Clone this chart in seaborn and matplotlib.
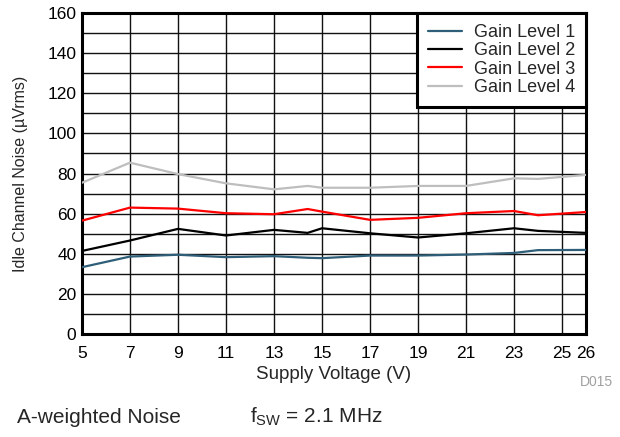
import numpy as np
import pandas as pd
import matplotlib
matplotlib.use("Agg")
import matplotlib.pyplot as plt
import seaborn as sns

# supply voltage sweep (V)
voltage = [5, 7, 9, 11, 13, 14.4, 15, 17, 19, 21, 23, 24, 26]

# idle channel noise (uVrms) per gain level
gain1 = [33.3, 38.6, 39.5, 38.3, 38.8, 38.0, 37.8, 39.1, 39.1, 39.6, 40.4, 41.8, 41.9]
gain2 = [41.4, 46.6, 52.4, 49.1, 51.9, 50.4, 52.7, 50.2, 48.1, 50.2, 52.7, 51.4, 50.4]
gain3 = [56.5, 63.0, 62.5, 60.2, 59.7, 62.3, 61.0, 56.9, 57.9, 60.2, 61.3, 59.2, 60.8]
gain4 = [75.4, 85.4, 79.7, 75.1, 72.1, 73.8, 72.9, 72.9, 73.8, 73.8, 77.6, 77.3, 79.3]

series_names = ["Gain Level 1", "Gain Level 2", "Gain Level 3", "Gain Level 4"]
series_colors = ["#2F5F78", "#000000", "#FF0000", "#BEBEBE"]

xtick_values = [5, 7, 9, 11, 13, 15, 17, 19, 21, 23, 25, 26]
ytick_values = list(range(0, 161, 20))

df = pd.concat(
    [pd.DataFrame({"Voltage": voltage, "Noise": vals, "Series": name})
     for name, vals in zip(series_names, [gain1, gain2, gain3, gain4])],
    ignore_index=True,
)

sns.set_style("white")
plt.rcParams["font.family"] = ["Liberation Sans", "DejaVu Sans"]
plt.rcParams["mathtext.default"] = "regular"

fig = plt.figure(figsize=(6.2, 4.37), dpi=100)
ax = fig.add_axes([82 / 620, 1 - 334 / 437, (586 - 82) / 620, (334 - 13) / 437])

sns.lineplot(
    data=df, x="Voltage", y="Noise", hue="Series",
    palette=dict(zip(series_names, series_colors)),
    hue_order=series_names, linewidth=1.6, ax=ax, zorder=3,
)

ax.set_xlim(5, 26)
ax.set_ylim(0, 160)
ax.set_xticks(xtick_values)
ax.set_xticklabels([str(v) for v in xtick_values])
ax.set_yticks(ytick_values)
ax.set_yticks(range(10, 160, 20), minor=True)
ax.tick_params(axis="both", which="both", length=0, labelsize=12.5, colors="black")
ax.tick_params(axis="x", pad=9)
ax.tick_params(axis="y", pad=4)
ax.grid(True, which="both", color="#111111", linewidth=1.0)
ax.set_axisbelow(True)

for sp in ax.spines.values():
    sp.set_visible(True)
    sp.set_color("black")
    sp.set_linewidth(2.2)

ax.set_xlabel("Supply Voltage (V)", fontsize=13.5, labelpad=3)
ax.set_ylabel("Idle Channel Noise (µVrms)", fontsize=11.5, labelpad=14)

leg = ax.legend(
    loc="upper right", bbox_to_anchor=(1, 1), borderaxespad=0,
    fancybox=False, frameon=True, fontsize=13, handlelength=1.9,
    labelspacing=0.08, borderpad=0.6, handletextpad=0.65,
)
leg.get_frame().set_edgecolor("black")
leg.get_frame().set_linewidth(2.2)
leg.get_frame().set_alpha(1)
for line in leg.get_lines():
    line.set_linewidth(1.6)

fig.text(613 / 620, 1 - 386 / 437, "D015", fontsize=10, color="#A0A0A0", ha="right")
fig.text(17 / 620, 1 - 423 / 437, "A-weighted Noise", fontsize=15)
fig.text(250 / 620, 1 - 423 / 437, r"f$_{SW}$ = 2.1 MHz", fontsize=15)

fig.savefig("out.png", dpi=100)
